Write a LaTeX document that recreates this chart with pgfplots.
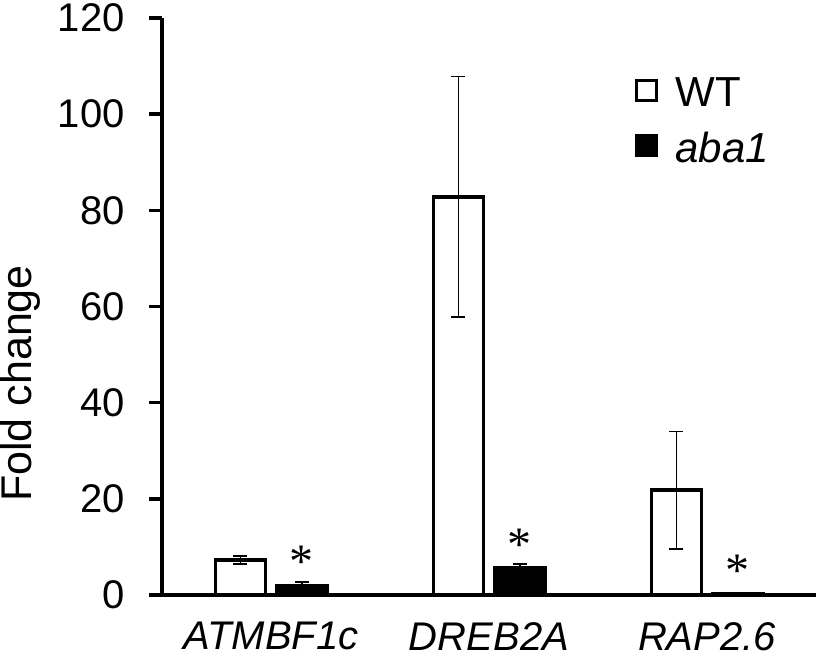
\documentclass[border=0pt]{standalone}
\usepackage{pgfplots}
\pgfplotsset{compat=1.18}
\usepackage{fontspec}
\setmainfont{Liberation Sans}
\newfontfamily\astfont{Liberation Serif}
\begin{document}
\begin{tikzpicture}
\begin{axis}[
  scale only axis,
  width=327pt, height=288.5pt,
  xmin=-0.5, xmax=2.5, ymin=0, ymax=120,
  enlarge x limits=false,
  ytick={0,20,...,120},
  xtick={0,1,2},
  xticklabels={\textit{ATMBF1c},\textit{DREB2A},\textit{RAP2.6}},
  axis lines=left,
  axis line style={-, line width=1.75pt, black},
  x axis line style={shorten <=-6.5pt},
  tick align=outside,
  major tick length=6.5pt,
  ytick style={line width=1.75pt, black},
  xtick style={draw=none},
  ybar=5.75pt, bar width=25pt,
  clip=false,
  /pgf/number format/assume math mode=true,
  tick label style={font=\fontsize{20}{24}\selectfont},
  label style={font=\fontsize{21.5}{26}\selectfont},
  yticklabel style={inner sep=0pt, anchor=east, xshift=-12pt},
  xticklabel style={inner sep=0pt, anchor=north, yshift=-7pt},
  ylabel={Fold change},
  ylabel style={at={(rel axis cs:-0.199,0.3666)}, anchor=base},
  legend style={draw=none, fill=none, at={(0.7232,0.898)}, anchor=north west,
    inner sep=0pt, row sep=11.5pt, column sep=8.5pt, nodes={inner sep=0pt},
    font=\fontsize{21}{25}\selectfont, legend cell align=left},
  legend image code/.code={\draw[#1, line width=1.5pt] (0pt,-3.5pt) rectangle (10pt,6.5pt);},
]
\addplot[draw=black, fill=white, line width=1.75pt,
  error bars/.cd, y dir=both, y explicit,
  error bar style={line width=0.75pt, black},
  error mark options={rotate=90, mark size=3.5pt, line width=0.75pt, black}]
  table[x=x, y=y, y error=e] {
x y e
0 7.3 0.8
1 82.8 25
2 21.8 12.2
};
\addlegendentry{WT}
\addplot[draw=black, fill=black, line width=1.75pt,
  nodes near coords={\astfont\fontsize{24}{24}\selectfont *},
  every node near coord/.append style={anchor=base, inner sep=0pt, yshift=4pt, black},
  error bars/.cd, y dir=both, y explicit,
  error bar style={line width=0.75pt, black},
  error mark options={rotate=90, mark size=3.5pt, line width=0.75pt, black}]
  table[x=x, y=y, y error=e] {
x y e
0 1.9 0.85
1 5.6 0.85
2 0.2 0
};
\addlegendentry{\textit{aba1}}
\coordinate (A) at (rel axis cs:0,0);
\coordinate (B) at (rel axis cs:1,1);
\end{axis}
\pgfresetboundingbox
\path[use as bounding box] ([shift={(-81pt,-32pt)}]A) rectangle ([shift={(0pt,9pt)}]B);
\end{tikzpicture}
\end{document}
